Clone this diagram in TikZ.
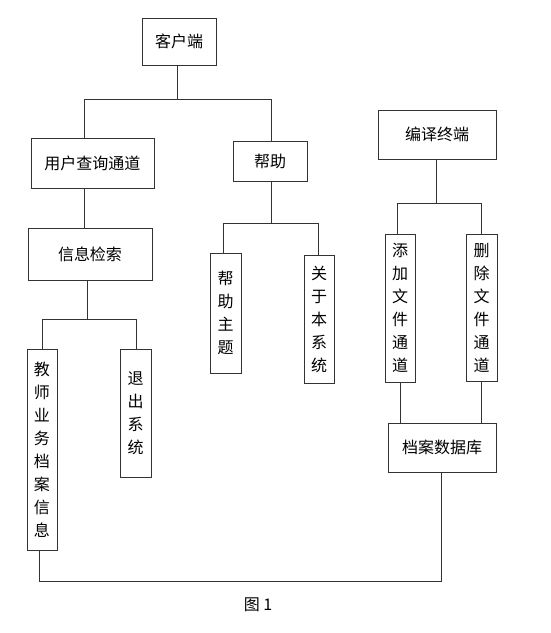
\documentclass[tikz,border=0pt]{standalone}
\usepackage{fontspec}
\newfontfamily\cjk{Noto Sans CJK SC}
\begin{document}
\begin{tikzpicture}[x=1pt,y=-1pt,
  box/.style={draw=black!80, line width=0.9pt, inner sep=0pt, align=center,
    font=\cjk\fontsize{16}{23}\selectfont},
  conn/.style={draw=black!80, line width=0.9pt}]
\useasboundingbox[fill=white] (0,0) rectangle (551,633);
% boxes
\node[box, minimum width=74pt,  minimum height=47pt]  (kehu)    at (179,41.5)   {客户端};
\node[box, minimum width=123pt, minimum height=50pt]  (yonghu)  at (92.5,163)   {用户查询通道};
\node[box, minimum width=74pt,  minimum height=40pt]  (bangzhu) at (270,161)    {帮助};
\node[box, minimum width=118pt, minimum height=49pt]  (bianyi)  at (437,134.5)  {编译终端};
\node[box, minimum width=124pt, minimum height=52pt]  (xinxi)   at (90,254)     {信息检索};
\node[box, minimum width=30pt,  minimum height=201pt] (jiaoshi) at (42,449.5)   {教\\师\\业\\务\\档\\案\\信\\息};
\node[box, minimum width=31pt,  minimum height=128pt] (tuichu)  at (135.5,413)  {退\\出\\系\\统};
\node[box, minimum width=31pt,  minimum height=120pt] (bzzt)    at (225.5,313)  {帮\\助\\主\\题};
\node[box, minimum width=30pt,  minimum height=128pt] (guanyu)  at (319,319)    {关\\于\\本\\系\\统};
\node[box, minimum width=30pt,  minimum height=148pt] (tianjia) at (400,308)    {添\\加\\文\\件\\通\\道};
\node[box, minimum width=31pt,  minimum height=147pt] (shanchu) at (481.5,307.5){删\\除\\文\\件\\通\\道};
\node[box, minimum width=108pt, minimum height=49pt]  (dangan)  at (442,447.5)  {档案数据库};
\node[font=\cjk\fontsize{16}{16}\selectfont] (cap) at (258,605) {图 1};
% junctions
\coordinate (j1) at (177,99);  \coordinate (j1l) at (84,99);  \coordinate (j1r) at (271,99);
\coordinate (j3) at (87,319);  \coordinate (j3l) at (42,319);  \coordinate (j3r) at (136,319);
\coordinate (j4) at (271,223); \coordinate (j4l) at (223,223); \coordinate (j4r) at (318,223);
\coordinate (j5) at (436,203); \coordinate (j5l) at (397,203); \coordinate (j5r) at (481,203);
\coordinate (j7) at (441,581); \coordinate (j7l) at (39,581);
% connectors
\draw[conn] (j1 |- kehu.south) -- (j1);
\draw[conn] (j1l |- yonghu.north) -- (j1l) -- (j1r) -- (j1r |- bangzhu.north);
\draw[conn] (j1l |- yonghu.south) -- (j1l |- xinxi.north);
\draw[conn] (j3 |- xinxi.south) -- (j3);
\draw[conn] (j3l |- jiaoshi.north) -- (j3l) -- (j3r) -- (j3r |- tuichu.north);
\draw[conn] (j4 |- bangzhu.south) -- (j4);
\draw[conn] (j4l |- bzzt.north) -- (j4l) -- (j4r) -- (j4r |- guanyu.north);
\draw[conn] (j5 |- bianyi.south) -- (j5);
\draw[conn] (j5l |- tianjia.north) -- (j5l) -- (j5r) -- (j5r |- shanchu.north);
\draw[conn] (tianjia.south) -- (tianjia.south |- dangan.north);
\draw[conn] (shanchu.south) -- (shanchu.south |- dangan.north);
\draw[conn] (j7 |- dangan.south) -- (j7) -- (j7l) -- (j7l |- jiaoshi.south);
\end{tikzpicture}
\end{document}
